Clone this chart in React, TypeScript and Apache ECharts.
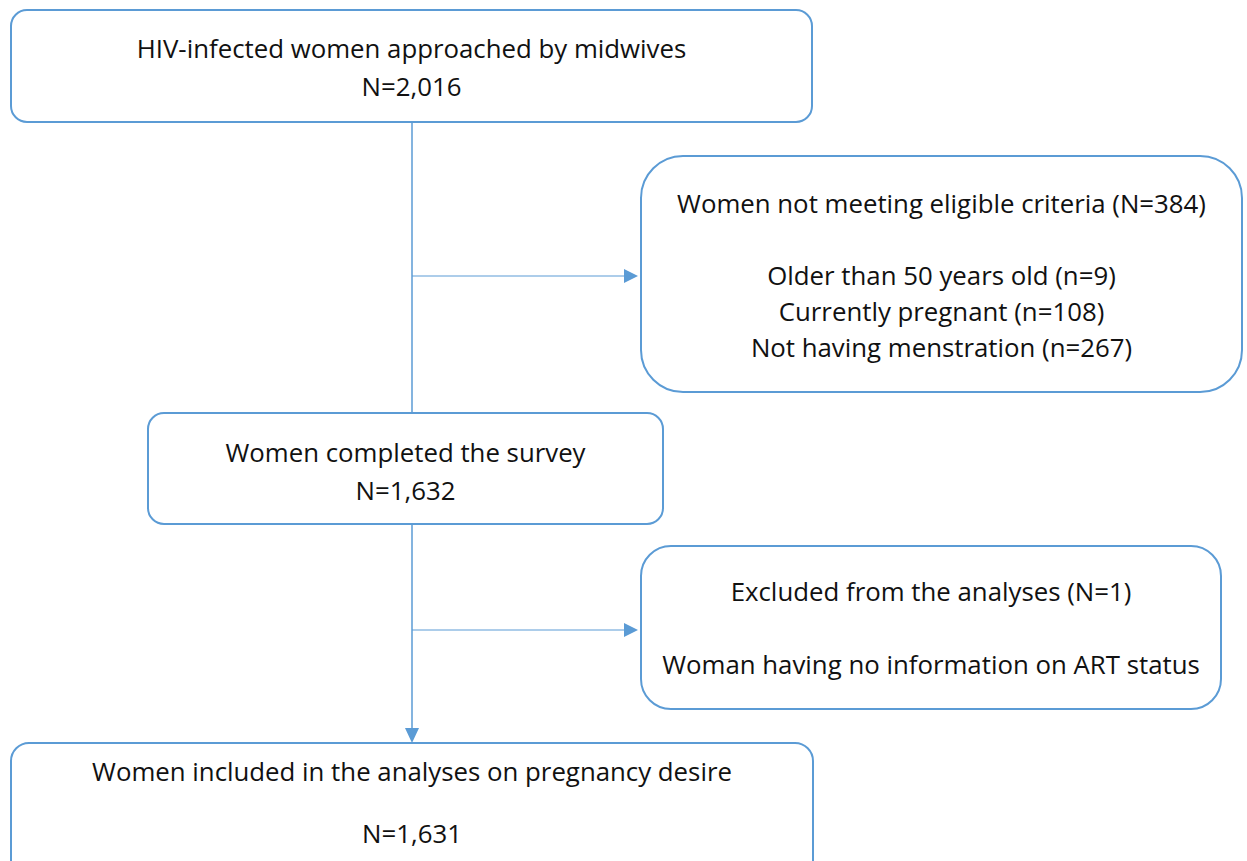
import React, { useEffect, useRef } from "react";
import * as echarts from "echarts";

// Box texts (each entry is a list of lines; "" marks a blank line)
const box1Lines = ["HIV-infected women approached by midwives", "N=2,016"];
const box2Lines = [
  "Women not meeting eligible criteria (N=384)",
  "",
  "Older than 50 years old (n=9)",
  "Currently pregnant (n=108)",
  "Not having menstration (n=267)",
];
const box3Lines = ["Women completed the survey", "N=1,632"];
const box4Lines = ["Excluded from the analyses (N=1)", "", "Woman having no information on ART status"];
const box5Lines = ["Women included in the analyses on pregnancy desire", "", "N=1,631"];

const BLUE = "#5b9bd5";
const FONT = "'Open Sans', 'Noto Sans', sans-serif";
const FS = 25.8;

type Layout = { x: number; y: number; w: number; h: number; r: number; firstY: number; lineH: number };

const layouts: Layout[] = [
  { x: 11, y: 10, w: 801, h: 112, r: 16, firstY: 48, lineH: 38 },
  { x: 641, y: 156, w: 601, h: 236, r: 42, firstY: 203, lineH: 36 },
  { x: 148, y: 413, w: 515, h: 111, r: 16, firstY: 452, lineH: 38 },
  { x: 641, y: 546, w: 580, h: 163, r: 30, firstY: 591, lineH: 36.5 },
  { x: 11, y: 743, w: 802, h: 140, r: 18, firstY: 771, lineH: 31 },
];
const boxTexts = [box1Lines, box2Lines, box3Lines, box4Lines, box5Lines];

export default function App() {
  const ref = useRef<HTMLDivElement>(null);
  useEffect(() => {
    if (!ref.current) return;
    const chart = echarts.init(ref.current, undefined, { renderer: "svg" });
    const elements: any[] = [];
    boxTexts.forEach((lines, i) => {
      const L = layouts[i];
      elements.push({
        type: "rect",
        shape: { x: L.x, y: L.y, width: L.w, height: L.h, r: L.r },
        style: { fill: "#fff", stroke: BLUE, lineWidth: 2 },
      });
      lines.forEach((t, j) => {
        if (!t) return;
        elements.push({
          type: "text",
          x: L.x + L.w / 2,
          y: L.firstY + j * L.lineH,
          style: {
            text: t,
            fill: "#111",
            font: `${FS}px ${FONT}`,
            textAlign: "center",
            textVerticalAlign: "middle",
          },
        });
      });
    });
    const lineStyle = { stroke: BLUE, lineWidth: 1.5 };
    const cx = 412;
    // vertical lines
    elements.push({ type: "line", shape: { x1: cx, y1: 122, x2: cx, y2: 413 }, style: lineStyle });
    elements.push({ type: "line", shape: { x1: cx, y1: 524, x2: cx, y2: 730 }, style: lineStyle });
    elements.push({ type: "polygon", shape: { points: [[cx - 7, 728], [cx + 7, 728], [cx, 743]] }, style: { fill: BLUE } });
    // horizontal arrows
    [276, 630].forEach((y) => {
      elements.push({ type: "line", shape: { x1: cx, y1: y, x2: 626, y2: y }, style: { stroke: BLUE, lineWidth: 1 } });
      elements.push({ type: "polygon", shape: { points: [[624, y - 7], [624, y + 7], [638, y]] }, style: { fill: BLUE } });
    });
    chart.setOption({ animation: false, backgroundColor: "#fff", graphic: { elements } });
    return () => chart.dispose();
  }, []);
  return <div ref={ref} style={{ position: "absolute", left: 0, top: 0, width: 1247, height: 861 }} />;
}
